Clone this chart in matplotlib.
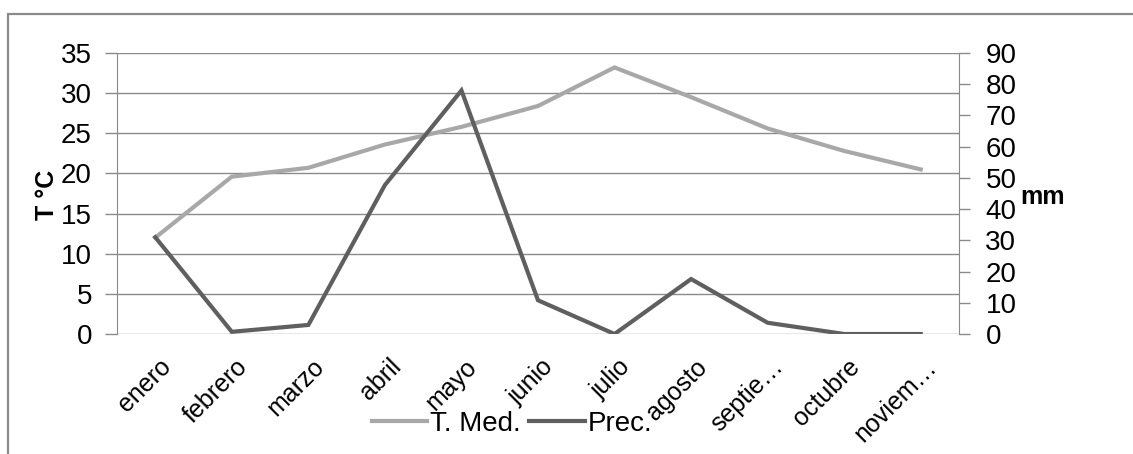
import matplotlib
matplotlib.use("Agg")
import matplotlib.pyplot as plt
from matplotlib.patches import Rectangle
from matplotlib.transforms import ScaledTranslation

plt.rcParams['font.family'] = ['Liberation Sans', 'DejaVu Sans']

months = ["enero", "febrero", "marzo", "abril", "mayo", "junio", "julio",
          "agosto", "septie…", "octubre", "noviem…"]
temp_med = [12.0, 19.6, 20.7, 23.6, 25.8, 28.4, 33.2, 29.5, 25.6, 22.8, 20.5]
prec = [31.0, 0.7, 2.9, 47.7, 78.0, 10.8, 0.0, 17.6, 3.6, 0.0, 0.0]

fig = plt.figure(figsize=(11.33, 4.54), dpi=100)
fig.patch.set_facecolor("white")
fig.patches.append(Rectangle((8/1133, -0.1), 1.2, (454-14)/454 + 0.1,
                             transform=fig.transFigure, fill=False,
                             edgecolor="#8a8a8a", linewidth=1.6))

ax = fig.add_axes([117/1133, 1-334/454, (959-117)/1133, (334-53)/454])
ax2 = ax.twinx()

x = list(range(len(months)))
l1, = ax.plot(x, temp_med, color="#a8a8a8", lw=3.0, solid_joinstyle="miter", label="T. Med.")
l2, = ax2.plot(x, prec, color="#5f5f5f", lw=3.0, solid_joinstyle="miter", label="Prec.")

ax.set_xlim(-0.5, len(months) - 0.5)
ax.set_ylim(0, 35)
ax2.set_ylim(0, 90)
ax.set_yticks(range(0, 36, 5))
ax2.set_yticks(range(0, 91, 10))
ax.set_xticks(x)
ax.set_xticklabels(months, rotation=45, ha="right", va="center",
                   rotation_mode="anchor", fontsize=18)
ax.tick_params(axis="x", length=0, pad=21)
shift = ScaledTranslation(12/100, 0, fig.dpi_scale_trans)
for lab in ax.get_xticklabels():
    lab.set_transform(lab.get_transform() + shift)
ax.tick_params(axis="y", length=9, width=1, color="#8a8a8a", labelsize=20, pad=9)
ax2.tick_params(axis="y", length=8, width=1, color="#8a8a8a", labelsize=20, pad=11)

ax.grid(axis="y", color="#8a8a8a", lw=1)
ax.set_axisbelow(True)
for a in (ax, ax2):
    for s in ("top", "bottom"):
        a.spines[s].set_visible(False)
    a.spines["left"].set_color("#8a8a8a")
    a.spines["right"].set_color("#8a8a8a")
ax.spines["right"].set_visible(False)
ax2.spines["left"].set_visible(False)

ax.set_ylabel("T °C", fontsize=18, fontweight="bold", va="center", ha="center")
ax.yaxis.set_label_coords(-0.0831, 0.495)
ax2.set_ylabel("mm", fontsize=18, fontweight="bold", rotation=0, va="center", ha="center")
ax2.yaxis.set_label_coords(1.0986, 0.4875)

fig.legend(handles=[l1, l2], loc="center", bbox_to_anchor=(512/1133, 1-424/454),
           ncol=2, frameon=False, fontsize=20, handlelength=2.0,
           handletextpad=0.1, columnspacing=0.3)

fig.savefig("out.png", dpi=100, facecolor="white")
